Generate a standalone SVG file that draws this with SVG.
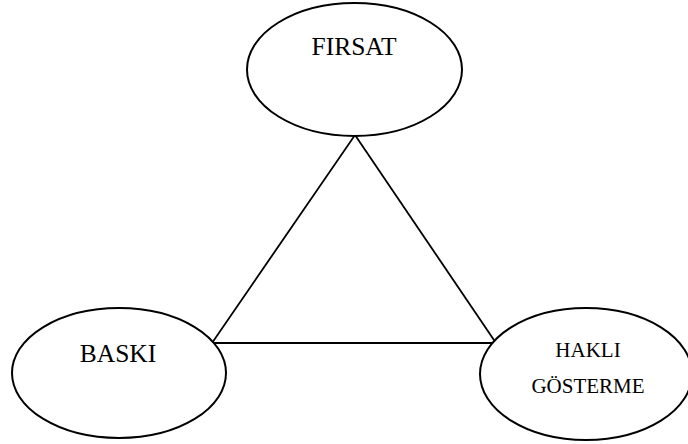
<svg xmlns="http://www.w3.org/2000/svg" width="688" height="444" viewBox="0 0 688 444">
<style>
.node ellipse{fill:#fff;stroke:#000;stroke-width:2}
.conn line{stroke:#000;stroke-width:1.8}
text{font-family:"Liberation Serif","Times New Roman",serif;fill:#000;text-anchor:middle}
.big{font-size:25.5px}
.small{font-size:21px}
</style>
<rect width="688" height="444" fill="#fff"/>
<g class="conn" id="connectors">
<line x1="355" y1="135" x2="212" y2="343"/>
<line x1="355" y1="135" x2="496" y2="343"/>
<line x1="212" y1="343" x2="496" y2="343"/>
</g>
<g class="node" id="firsat">
<ellipse cx="354.5" cy="69.5" rx="107.5" ry="66.5"/>
<text class="big" x="354" y="54.5">FIRSAT</text>
</g>
<g class="node" id="baski">
<ellipse cx="119" cy="373" rx="107" ry="65"/>
<text class="big" x="118" y="362">BASKI</text>
</g>
<g class="node" id="hakli">
<ellipse cx="586" cy="374" rx="106" ry="66"/>
<text class="small" x="588" y="357">HAKLI</text>
<text class="small" x="588" y="393">GÖSTERME</text>
</g>
</svg>
